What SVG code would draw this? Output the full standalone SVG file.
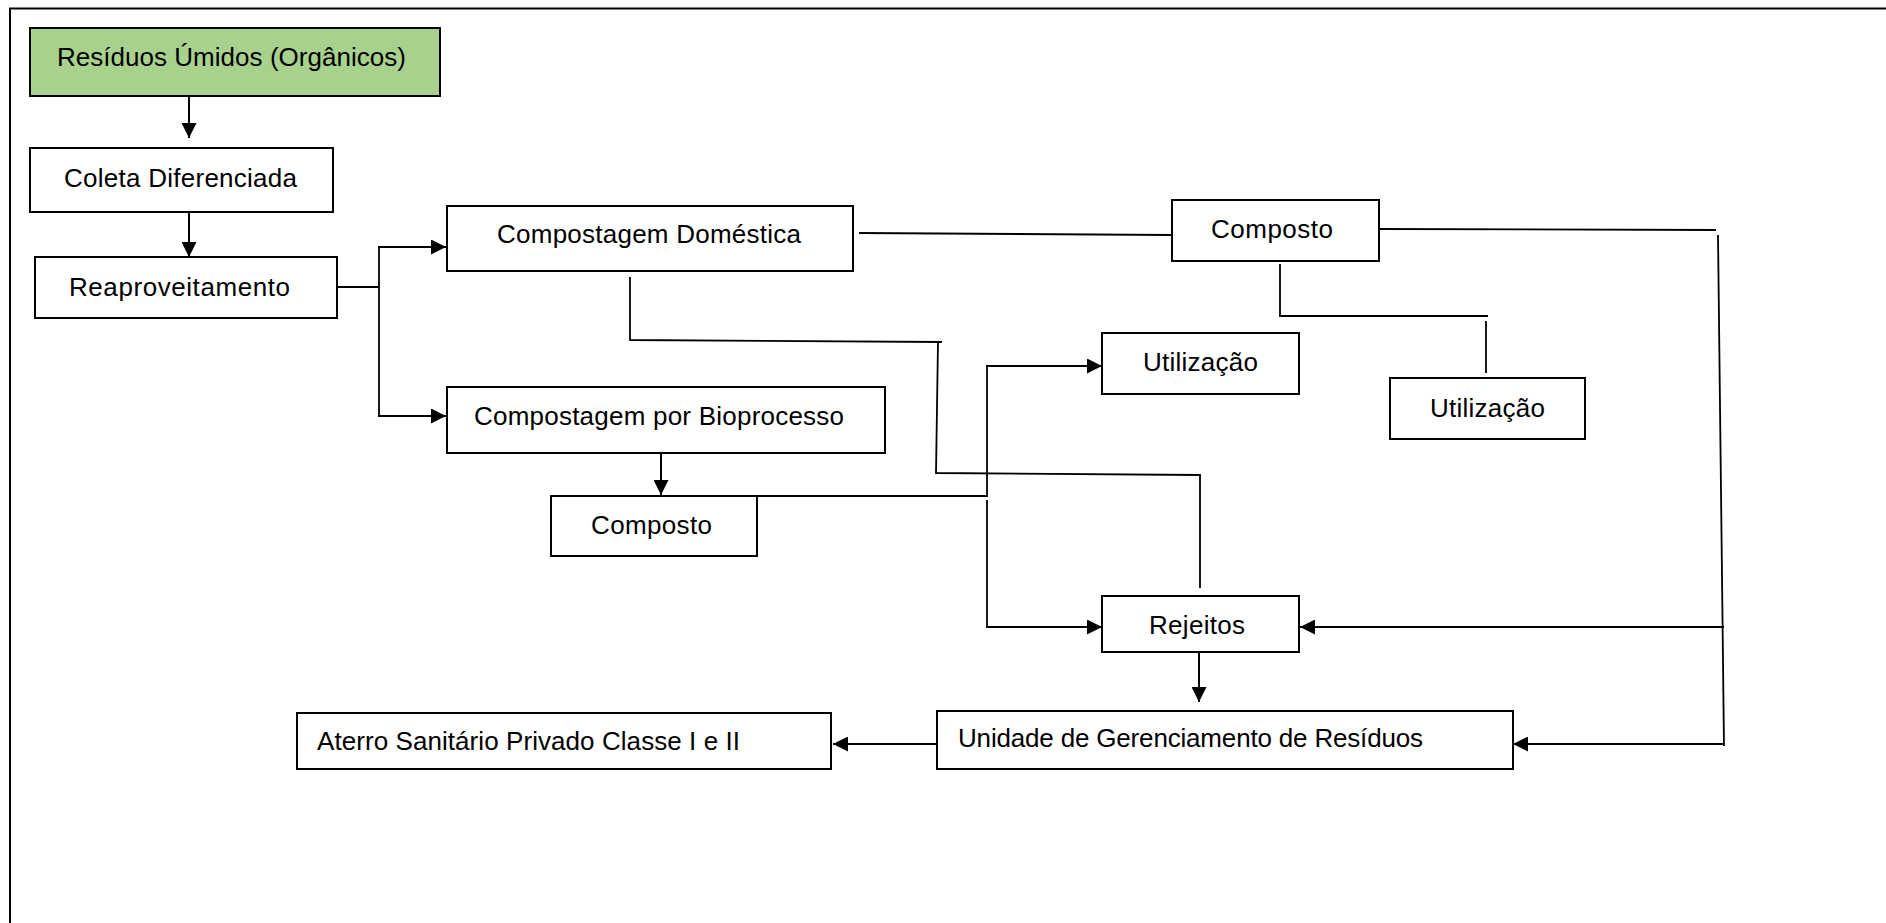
<svg xmlns="http://www.w3.org/2000/svg" width="1886" height="923" viewBox="0 0 1886 923">
<style>
  .box { fill: #ffffff; stroke: #000000; stroke-width: 2; }
  .green { fill: #a9d18e; }
  .lbl { font-family: "Liberation Sans", Arial, sans-serif; font-size: 26px; fill: #000000; }
  .ln { fill: none; stroke: #000000; stroke-width: 1.8; }
  .ar { fill: none; stroke: #000000; stroke-width: 2; marker-end: url(#ah); }
</style>
<defs>
  <marker id="ah" viewBox="0 0 15 15" refX="15" refY="7.5" markerWidth="15" markerHeight="15" markerUnits="userSpaceOnUse" orient="auto">
    <path d="M0,0 L15,7.5 L0,15 Z" fill="#000000"/>
  </marker>
</defs>
<rect x="0" y="0" width="1886" height="923" fill="#ffffff"/>
<g id="frame">
  <path d="M10,923 L10,8.5 L1886,8.5" fill="none" stroke="#000000" stroke-width="2"/>
</g>
<g id="connectors">
  <path class="ar" d="M189,96 L189,138"/>
  <path class="ar" d="M189,212 L189,257"/>
  <path class="ln" d="M337,287 L379,287"/>
  <path class="ln" d="M379,247 L379,416"/>
  <path class="ar" d="M378,247 L446,247"/>
  <path class="ar" d="M378,416 L446,416"/>
  <path class="ln" d="M859,233 L1172,235"/>
  <path class="ln" d="M1379,229 L1716,230"/>
  <path class="ln" d="M1718,235 L1724,746"/>
  <path class="ar" d="M1724,627 L1300,627"/>
  <path class="ar" d="M1724,744 L1513,744"/>
  <path class="ln" d="M1280,264 L1280,316 L1488,316"/>
  <path class="ln" d="M1486,321 L1486,373"/>
  <path class="ln" d="M630,277 L630,340 L942,342"/>
  <path class="ln" d="M938,342 L936,473 L1200,475 L1200,588"/>
  <path class="ar" d="M661,454 L661,495"/>
  <path class="ln" d="M709,496 L987,496 L987,366"/>
  <path class="ar" d="M986,366 L1102,366"/>
  <path class="ln" d="M987,500 L987,627"/>
  <path class="ar" d="M986,627 L1102,627"/>
  <path class="ar" d="M1199,653 L1199,702"/>
  <path class="ar" d="M937,744 L833,744"/>
</g>
<g id="n-residuos">
  <rect class="box green" x="30" y="28" width="410" height="68"/>
  <text class="lbl" x="57" y="66" textLength="349">Resíduos Úmidos (Orgânicos)</text>
</g>
<g id="n-coleta">
  <rect class="box" x="30" y="148" width="303" height="64"/>
  <text class="lbl" x="64" y="187" textLength="233">Coleta Diferenciada</text>
</g>
<g id="n-reaproveitamento">
  <rect class="box" x="35" y="257" width="302" height="61"/>
  <text class="lbl" x="69" y="296" textLength="221">Reaproveitamento</text>
</g>
<g id="n-domestica">
  <rect class="box" x="447" y="206" width="406" height="65"/>
  <text class="lbl" x="497" y="243" textLength="304">Compostagem Doméstica</text>
</g>
<g id="n-bioprocesso">
  <rect class="box" x="447" y="387" width="438" height="66"/>
  <text class="lbl" x="474" y="425" textLength="370">Compostagem por Bioprocesso</text>
</g>
<g id="n-composto-1">
  <rect class="box" x="1172" y="200" width="207" height="61"/>
  <text class="lbl" x="1211" y="238" textLength="122">Composto</text>
</g>
<g id="n-utilizacao-1">
  <rect class="box" x="1102" y="333" width="197" height="61"/>
  <text class="lbl" x="1143" y="371" textLength="115">Utilização</text>
</g>
<g id="n-utilizacao-2">
  <rect class="box" x="1390" y="378" width="195" height="61"/>
  <text class="lbl" x="1430" y="417" textLength="115">Utilização</text>
</g>
<g id="n-composto-2">
  <rect class="box" x="551" y="496" width="206" height="60"/>
  <text class="lbl" x="591" y="534" textLength="121">Composto</text>
</g>
<g id="n-rejeitos">
  <rect class="box" x="1102" y="596" width="197" height="56"/>
  <text class="lbl" x="1149" y="634" textLength="96">Rejeitos</text>
</g>
<g id="n-unidade">
  <rect class="box" x="937" y="711" width="576" height="58"/>
  <text class="lbl" x="958" y="747" textLength="465">Unidade de Gerenciamento de Resíduos</text>
</g>
<g id="n-aterro">
  <rect class="box" x="297" y="713" width="534" height="56"/>
  <text class="lbl" x="317" y="750" textLength="423">Aterro Sanitário Privado Classe I e II</text>
</g>
</svg>
